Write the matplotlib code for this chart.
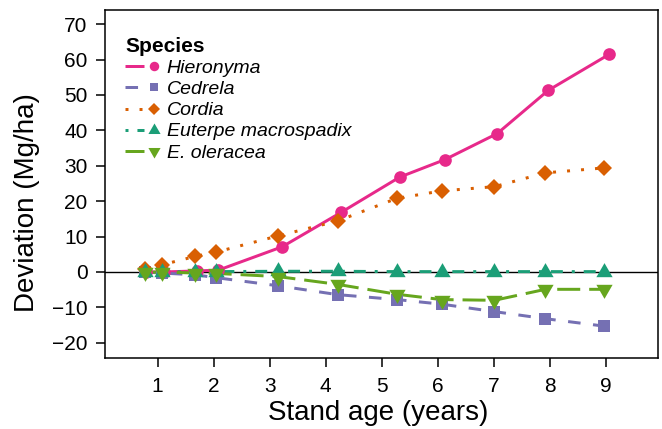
import matplotlib
matplotlib.use("Agg")
import matplotlib.pyplot as plt
from matplotlib.lines import Line2D
from matplotlib.legend_handler import HandlerTuple

plt.rcParams['font.family'] = ['Liberation Sans', 'DejaVu Sans']

# stand age (years) at each census; Hieronyma sits slightly to the right
age_common = [0.77, 1.07, 1.67, 2.04, 3.15, 4.21, 5.27, 6.07, 7.01, 7.92, 8.97]
age_hieronyma = [0.80, 1.11, 1.71, 2.08, 3.22, 4.27, 5.32, 6.12, 7.06, 7.97, 9.06]

# deviation (Mg/ha)
dev_hieronyma = [0.0, 0.0, 0.3, 0.5, 7.1, 16.8, 26.8, 31.7, 39.1, 51.3, 61.5]
dev_cedrela = [0.0, -0.3, -0.8, -1.6, -3.9, -6.4, -7.8, -9.1, -11.2, -13.2, -15.3]
dev_cordia = [0.8, 2.0, 4.4, 5.6, 10.2, 14.4, 20.8, 22.9, 24.1, 28.0, 29.4]
dev_euterpe = [0.1, 0.0, 0.1, 0.1, 0.2, 0.2, 0.1, 0.1, 0.1, 0.1, 0.1]
dev_oleracea = [-0.1, 0.0, -0.3, -0.4, -1.3, -3.5, -6.3, -7.8, -8.0, -4.9, -4.9]

species = ["Hieronyma", "Cedrela", "Cordia", "Euterpe macrospadix", "E. oleracea"]
ages = [age_hieronyma, age_common, age_common, age_common, age_common]
devs = [dev_hieronyma, dev_cedrela, dev_cordia, dev_euterpe, dev_oleracea]

x_ticks = [1, 2, 3, 4, 5, 6, 7, 8, 9]
y_ticks = [-20, -10, 0, 10, 20, 30, 40, 50, 60, 70]

colors = ["#E7298A", "#7570B3", "#D95F02", "#1B9E77", "#66A61E"]
dashes = [None, (4.2, 4.2), (1.0, 3.7), (1.0, 3.0, 4.0, 3.0), (7.7, 3.0)]

# R-style triangles (centred on the centroid, not the box middle)
tri_up = [(0, 1.555), (1.347, -0.778), (-1.347, -0.778), (0, 1.555)]
tri_down = [(0, -1.555), (1.347, 0.778), (-1.347, 0.778), (0, -1.555)]
markers = ["o", "s", "D", tri_up, tri_down]
msizes = [9.1, 8.4, 8.0, 13.5, 13.5]

fig = plt.figure(figsize=(6.62, 4.29), dpi=100)
ax = fig.add_axes([105 / 662, 1 - 358 / 429, 552.5 / 662, 348 / 429])

ax.axhline(0, color="black", lw=1.0, zorder=1.5)

lw = 2.15
for x, y, c, d in zip(ages, devs, colors, dashes):
    line, = ax.plot(x, y, color=c, lw=lw, zorder=2, solid_capstyle="butt",
                    dash_capstyle="butt")
    if d is not None:
        line.set_dashes(d)
for x, y, c, m, ms in zip(ages, devs, colors, markers, msizes):
    ax.plot(x, y, ls="none", marker=m, ms=ms, color=c, mew=0, zorder=3)

ax.set_xlim(0.06, 9.92)
ax.set_ylim(-24.3, 74.0)
ax.set_xticks(x_ticks)
ax.set_yticks(y_ticks)
ax.set_yticklabels([str(v).replace("-", "\u2212") for v in y_ticks])
ax.tick_params(axis="both", direction="out", length=6.5, width=1.1,
               labelsize=15, colors="black")
ax.tick_params(axis="x", pad=7.5)
ax.tick_params(axis="y", pad=6)
for s in ax.spines.values():
    s.set_linewidth(1.1)

fig.text(378 / 662, 1 - 420 / 429, "Stand age (years)", fontsize=20,
         ha="center", va="baseline")
fig.text(34 / 662, 1 - 202.5 / 429, "Deviation (Mg/ha)", fontsize=20,
         rotation=90, rotation_mode="anchor", ha="center", va="baseline")

handles = []
for c, d, m, ms in zip(colors, dashes, markers, msizes):
    ln = Line2D([], [], color=c, lw=lw, solid_capstyle="butt", dash_capstyle="butt")
    if d is not None:
        ln.set_dashes(d)
    pt = Line2D([], [], ls="none", marker=m, ms=ms * 0.75, color=c, mew=0)
    handles.append((ln, pt))

leg = ax.legend(handles, species, handler_map={tuple: HandlerTuple(ndivide=None, pad=0)},
                loc="upper left", bbox_to_anchor=(125 / 662, 1 - 37 / 429),
                bbox_transform=fig.transFigure, frameon=False,
                title="Species", alignment="left",
                prop={"style": "italic", "size": 14},
                title_fontproperties={"weight": "bold", "size": 15},
                handlelength=2.0, handletextpad=0.15, labelspacing=0.18,
                borderpad=0, borderaxespad=0)

fig.savefig("out.png", dpi=100)
